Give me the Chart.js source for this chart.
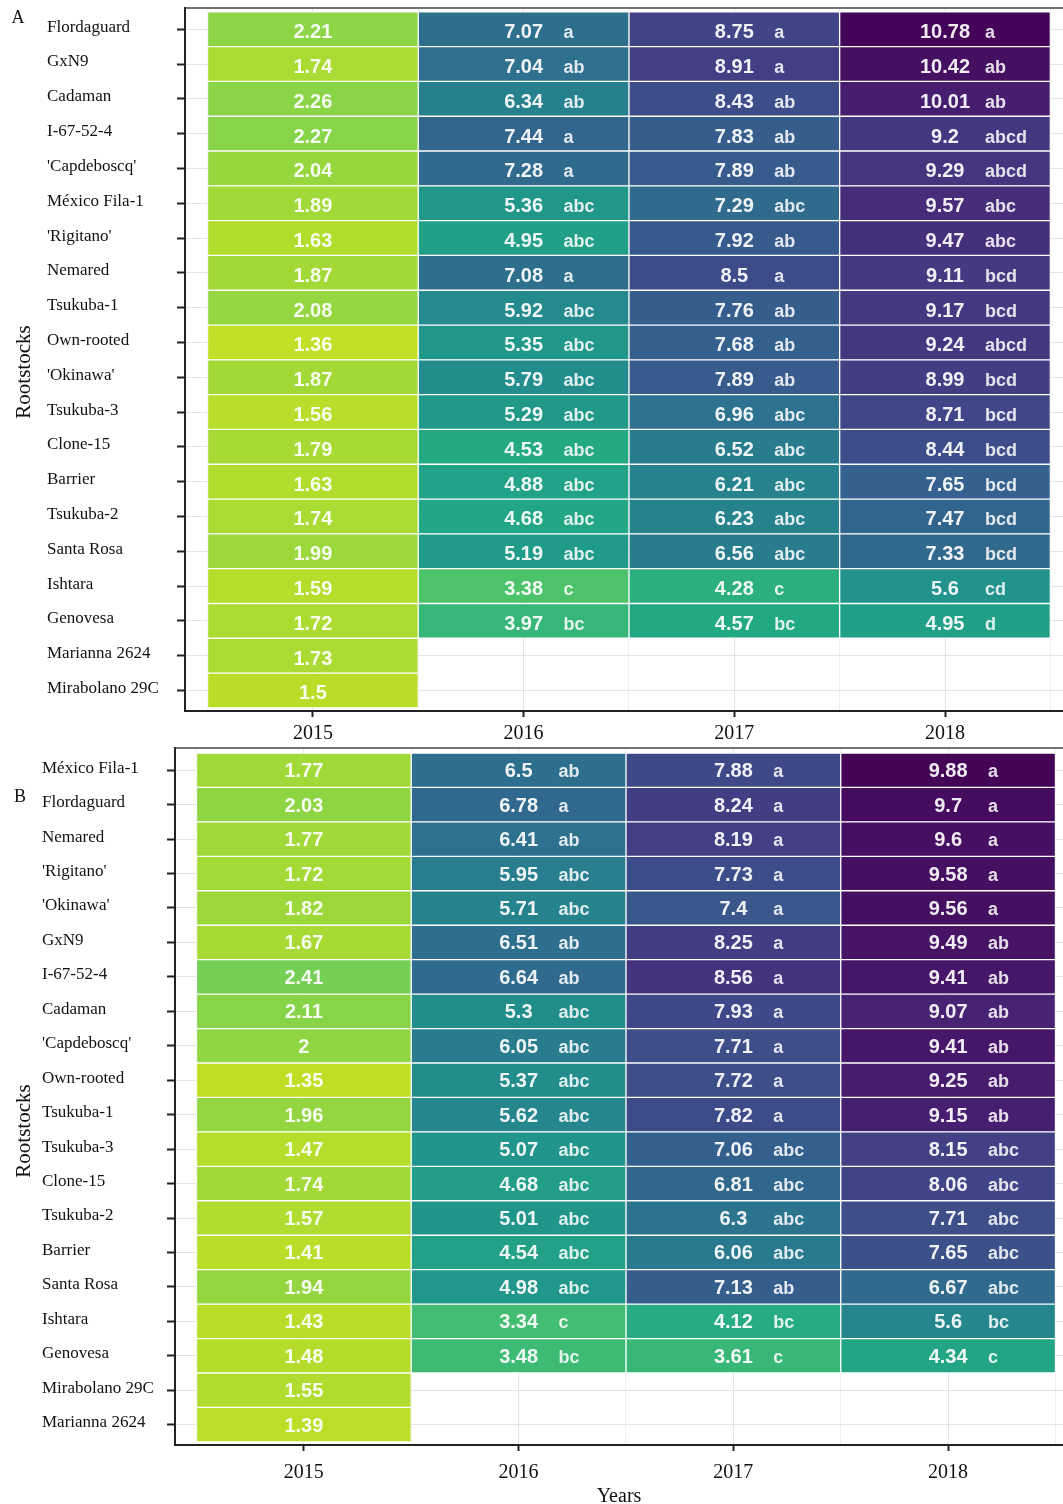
<!DOCTYPE html>
<html>
<head>
<meta charset="utf-8">
<script src="https://cdn.jsdelivr.net/npm/chart.js@4/dist/chart.umd.min.js"></script>
<style>
  body { margin: 0; background: #fff; }
  canvas { position: absolute; left: 0; }
</style>
</head>
<body>
<canvas id="chart-a" width="1063" height="745" style="top:0"></canvas>
<canvas id="chart-b" width="1063" height="759" style="top:745px"></canvas>
<script>
const years = ['2015', '2016', '2017', '2018']

/*
 * Panel A
 */
const rootstocksA = ['Flordaguard', 'GxN9', 'Cadaman', 'I-67-52-4', "'Capdeboscq'", 'México Fila-1', "'Rigitano'",
  'Nemared', 'Tsukuba-1', 'Own-rooted', "'Okinawa'", 'Tsukuba-3', 'Clone-15', 'Barrier', 'Tsukuba-2',
  'Santa Rosa', 'Ishtara', 'Genovesa', 'Marianna 2624', 'Mirabolano 29C']
const a2015 = [2.21, 1.74, 2.26, 2.27, 2.04, 1.89, 1.63, 1.87, 2.08, 1.36, 1.87, 1.56, 1.79, 1.63, 1.74, 1.99, 1.59, 1.72, 1.73, 1.5]
const a2016 = [7.07, 7.04, 6.34, 7.44, 7.28, 5.36, 4.95, 7.08, 5.92, 5.35, 5.79, 5.29, 4.53, 4.88, 4.68, 5.19, 3.38, 3.97]
const a2017 = [8.75, 8.91, 8.43, 7.83, 7.89, 7.29, 7.92, 8.5, 7.76, 7.68, 7.89, 6.96, 6.52, 6.21, 6.23, 6.56, 4.28, 4.57]
const a2018 = [10.78, 10.42, 10.01, 9.2, 9.29, 9.57, 9.47, 9.11, 9.17, 9.24, 8.99, 8.71, 8.44, 7.65, 7.47, 7.33, 5.6, 4.95]
const aGroups2016 = ['a', 'ab', 'ab', 'a', 'a', 'abc', 'abc', 'a', 'abc', 'abc', 'abc', 'abc', 'abc', 'abc', 'abc', 'abc', 'c', 'bc']
const aGroups2017 = ['a', 'a', 'ab', 'ab', 'ab', 'abc', 'ab', 'a', 'ab', 'ab', 'ab', 'abc', 'abc', 'abc', 'abc', 'abc', 'c', 'bc']
const aGroups2018 = ['a', 'ab', 'ab', 'abcd', 'abcd', 'abc', 'abc', 'bcd', 'bcd', 'abcd', 'bcd', 'bcd', 'bcd', 'bcd', 'bcd', 'bcd', 'cd', 'd']

/*
 * Panel B
 */
const rootstocksB = ['México Fila-1', 'Flordaguard', 'Nemared', "'Rigitano'", "'Okinawa'", 'GxN9', 'I-67-52-4',
  'Cadaman', "'Capdeboscq'", 'Own-rooted', 'Tsukuba-1', 'Tsukuba-3', 'Clone-15', 'Tsukuba-2', 'Barrier',
  'Santa Rosa', 'Ishtara', 'Genovesa', 'Mirabolano 29C', 'Marianna 2624']
const b2015 = [1.77, 2.03, 1.77, 1.72, 1.82, 1.67, 2.41, 2.11, 2, 1.35, 1.96, 1.47, 1.74, 1.57, 1.41, 1.94, 1.43, 1.48, 1.55, 1.39]
const b2016 = [6.5, 6.78, 6.41, 5.95, 5.71, 6.51, 6.64, 5.3, 6.05, 5.37, 5.62, 5.07, 4.68, 5.01, 4.54, 4.98, 3.34, 3.48]
const b2017 = [7.88, 8.24, 8.19, 7.73, 7.4, 8.25, 8.56, 7.93, 7.71, 7.72, 7.82, 7.06, 6.81, 6.3, 6.06, 7.13, 4.12, 3.61]
const b2018 = [9.88, 9.7, 9.6, 9.58, 9.56, 9.49, 9.41, 9.07, 9.41, 9.25, 9.15, 8.15, 8.06, 7.71, 7.65, 6.67, 5.6, 4.34]
const bGroups2016 = ['ab', 'a', 'ab', 'abc', 'abc', 'ab', 'ab', 'abc', 'abc', 'abc', 'abc', 'abc', 'abc', 'abc', 'abc', 'abc', 'c', 'bc']
const bGroups2017 = ['a', 'a', 'a', 'a', 'a', 'a', 'a', 'a', 'a', 'a', 'a', 'abc', 'abc', 'abc', 'abc', 'ab', 'bc', 'c']
const bGroups2018 = ['a', 'a', 'a', 'a', 'a', 'ab', 'ab', 'ab', 'ab', 'ab', 'ab', 'abc', 'abc', 'abc', 'abc', 'abc', 'bc', 'c']

const serif = '"Liberation Serif", "Times New Roman", serif'
const sans = '"Liberation Sans", Arial, sans-serif'

// viridis, sampled every 0.1
const viridisStops = ['#440154', '#482475', '#414487', '#355f8d', '#2a788e', '#21918c',
  '#22a884', '#44bf70', '#7ad151', '#bddf26', '#fde725']

const hexToRgb = h => [1, 3, 5].map(k => parseInt(h.slice(k, k + 2), 16))

const viridis = t => {
  t = Math.max(0, Math.min(1, t)) * 10
  const i = Math.min(9, Math.floor(t))
  const f = t - i
  const c0 = hexToRgb(viridisStops[i])
  const c1 = hexToRgb(viridisStops[i + 1])
  const c = c0.map((v, k) => Math.round(v + (c1[k] - v) * f))
  return `rgb(${c[0]}, ${c[1]}, ${c[2]})`
}

/*
 * Draws value + significance letters on every cell, the top frame line,
 * the rotated y title and the panel letter
 */
const makeDecor = (series, groups, p) => ({
  id: 'decor',
  afterDatasetsDraw(chart) {
    const { ctx, scales: { x, y } } = chart
    ctx.save()
    series.forEach((vals, j) => {
      vals.forEach((v, i) => {
        if (v == null) return
        const px = x.getPixelForValue(j)
        const py = y.getPixelForValue(i) + p.textDy
        ctx.textBaseline = 'alphabetic'
        ctx.fillStyle = 'rgba(255, 255, 255, 0.92)'
        ctx.font = `bold 20px ${sans}`
        ctx.textAlign = 'center'
        ctx.fillText(String(v), px, py + 7)
        const g = groups[j] && groups[j][i]
        if (g) {
          ctx.fillStyle = 'rgba(255, 255, 255, 0.86)'
          ctx.font = `bold 18px ${sans}`
          ctx.textAlign = 'left'
          ctx.fillText(g, px + 40, py + 7)
        }
      })
    })
    ctx.restore()
  },
  afterDraw(chart) {
    const { ctx, chartArea } = chart
    ctx.save()
    ctx.strokeStyle = '#444'
    ctx.lineWidth = 1.5
    ctx.beginPath()
    ctx.moveTo(chartArea.left, chartArea.top)
    ctx.lineTo(chartArea.right, chartArea.top)
    ctx.stroke()

    ctx.fillStyle = '#111'
    ctx.font = `18px ${serif}`
    ctx.textAlign = 'center'
    ctx.textBaseline = 'middle'
    ctx.fillText(p.letter, p.letterX, p.letterY)

    ctx.font = `21px ${serif}`
    ctx.translate(p.titleX, p.titleY)
    ctx.rotate(-Math.PI / 2)
    ctx.fillText('Rootstocks', 0, 0)
    ctx.restore()
  }
})

const makeHeatmap = (canvasId, names, series, groups, p) => {
  const all = series.flat()
  const hi = Math.max(...all) + 0.1
  const lo = 0.4
  const colour = v => viridis((hi - v) / (hi - lo))

  const datasets = series.map((vals, j) => {
    const kept = vals.filter(v => v != null)
    return {
      data: kept.map((v, i) => ({ y: i, x: [j - 0.5, j + 0.5] })),
      backgroundColor: kept.map(colour),
      borderColor: 'rgba(255, 255, 255, 0.8)',
      borderWidth: 1,
      borderSkipped: false,
      grouped: false,
      barPercentage: 1,
      categoryPercentage: 1
    }
  })

  const isMajor = c => c.tick && Number.isInteger(c.tick.value)

  return new Chart(document.getElementById(canvasId).getContext('2d'), {
    type: 'bar',
    data: { datasets },
    options: {
      indexAxis: 'y',
      responsive: false,
      animation: false,
      layout: { padding: { left: p.padLeft, top: p.padTop, right: 0, bottom: 0 } },
      plugins: { legend: { display: false }, tooltip: { enabled: false } },
      scales: {
        x: {
          type: 'linear',
          offset: false,
          min: p.xMin,
          max: p.xMax,
          afterBuildTicks: s => {
            s.ticks = years.flatMap((_, j) => [{ value: j - 0.5 }, { value: j }]).concat({ value: years.length - 0.5 })
          },
          afterFit: s => { s.height = p.xHeight; s.paddingLeft = 0; s.paddingRight = 0 },
          ticks: {
            autoSkip: false,
            maxRotation: 0,
            padding: p.xTickPad,
            color: '#111',
            font: { family: serif, size: 20 },
            callback: v => Number.isInteger(v) ? years[v] : ''
          },
          grid: {
            offset: false,
            color: c => isMajor(c) ? '#e3e3e3' : '#efefef',
            tickColor: c => isMajor(c) ? '#222' : 'rgba(0,0,0,0)',
            tickLength: 6,
            tickWidth: 2
          },
          border: { color: '#222', width: 2 },
          title: {
            display: p.showYears,
            text: 'Years',
            color: '#111',
            font: { family: serif, size: 20, lineHeight: 1 },
            padding: { top: 0, bottom: -3 }
          }
        },
        y: {
          type: 'linear',
          offset: false,
          reverse: true,
          min: p.yMin,
          max: p.yMax,
          afterBuildTicks: s => { s.ticks = names.map((_, i) => ({ value: i })) },
          afterFit: s => { s.width = p.yWidth; s.paddingTop = 0; s.paddingBottom = 0 },
          ticks: {
            autoSkip: false,
            crossAlign: 'far',
            labelOffset: -2,
            color: '#111',
            font: { family: serif, size: 17 },
            callback: v => names[v]
          },
          grid: { offset: false, color: '#e3e3e3', tickColor: '#222', tickLength: 8, tickWidth: 2 },
          border: { color: '#222', width: 2 }
        }
      }
    },
    plugins: [makeDecor(series, groups, p)]
  })
}

makeHeatmap('chart-a', rootstocksA, [a2015, a2016, a2017, a2018], [null, aGroups2016, aGroups2017, aGroups2018], {
  padLeft: 47, padTop: 8, yWidth: 138, xHeight: 34, xTickPad: 5,
  xMin: -0.607, xMax: 3.56, yMin: -0.61, yMax: 19.59,
  textDy: 2, showYears: false,
  letter: 'A', letterX: 18, letterY: 18, titleX: 24, titleY: 372
})

makeHeatmap('chart-b', rootstocksB, [b2015, b2016, b2017, b2018], [null, bGroups2016, bGroups2017, bGroups2018], {
  padLeft: 42, padTop: 3, yWidth: 133, xHeight: 59, xTickPad: 10,
  xMin: -0.6, xMax: 3.535, yMin: -0.645, yMax: 19.59,
  textDy: 0, showYears: true,
  letter: 'B', letterX: 20, letterY: 52, titleX: 24, titleY: 386
})
</script>
</body>
</html>
